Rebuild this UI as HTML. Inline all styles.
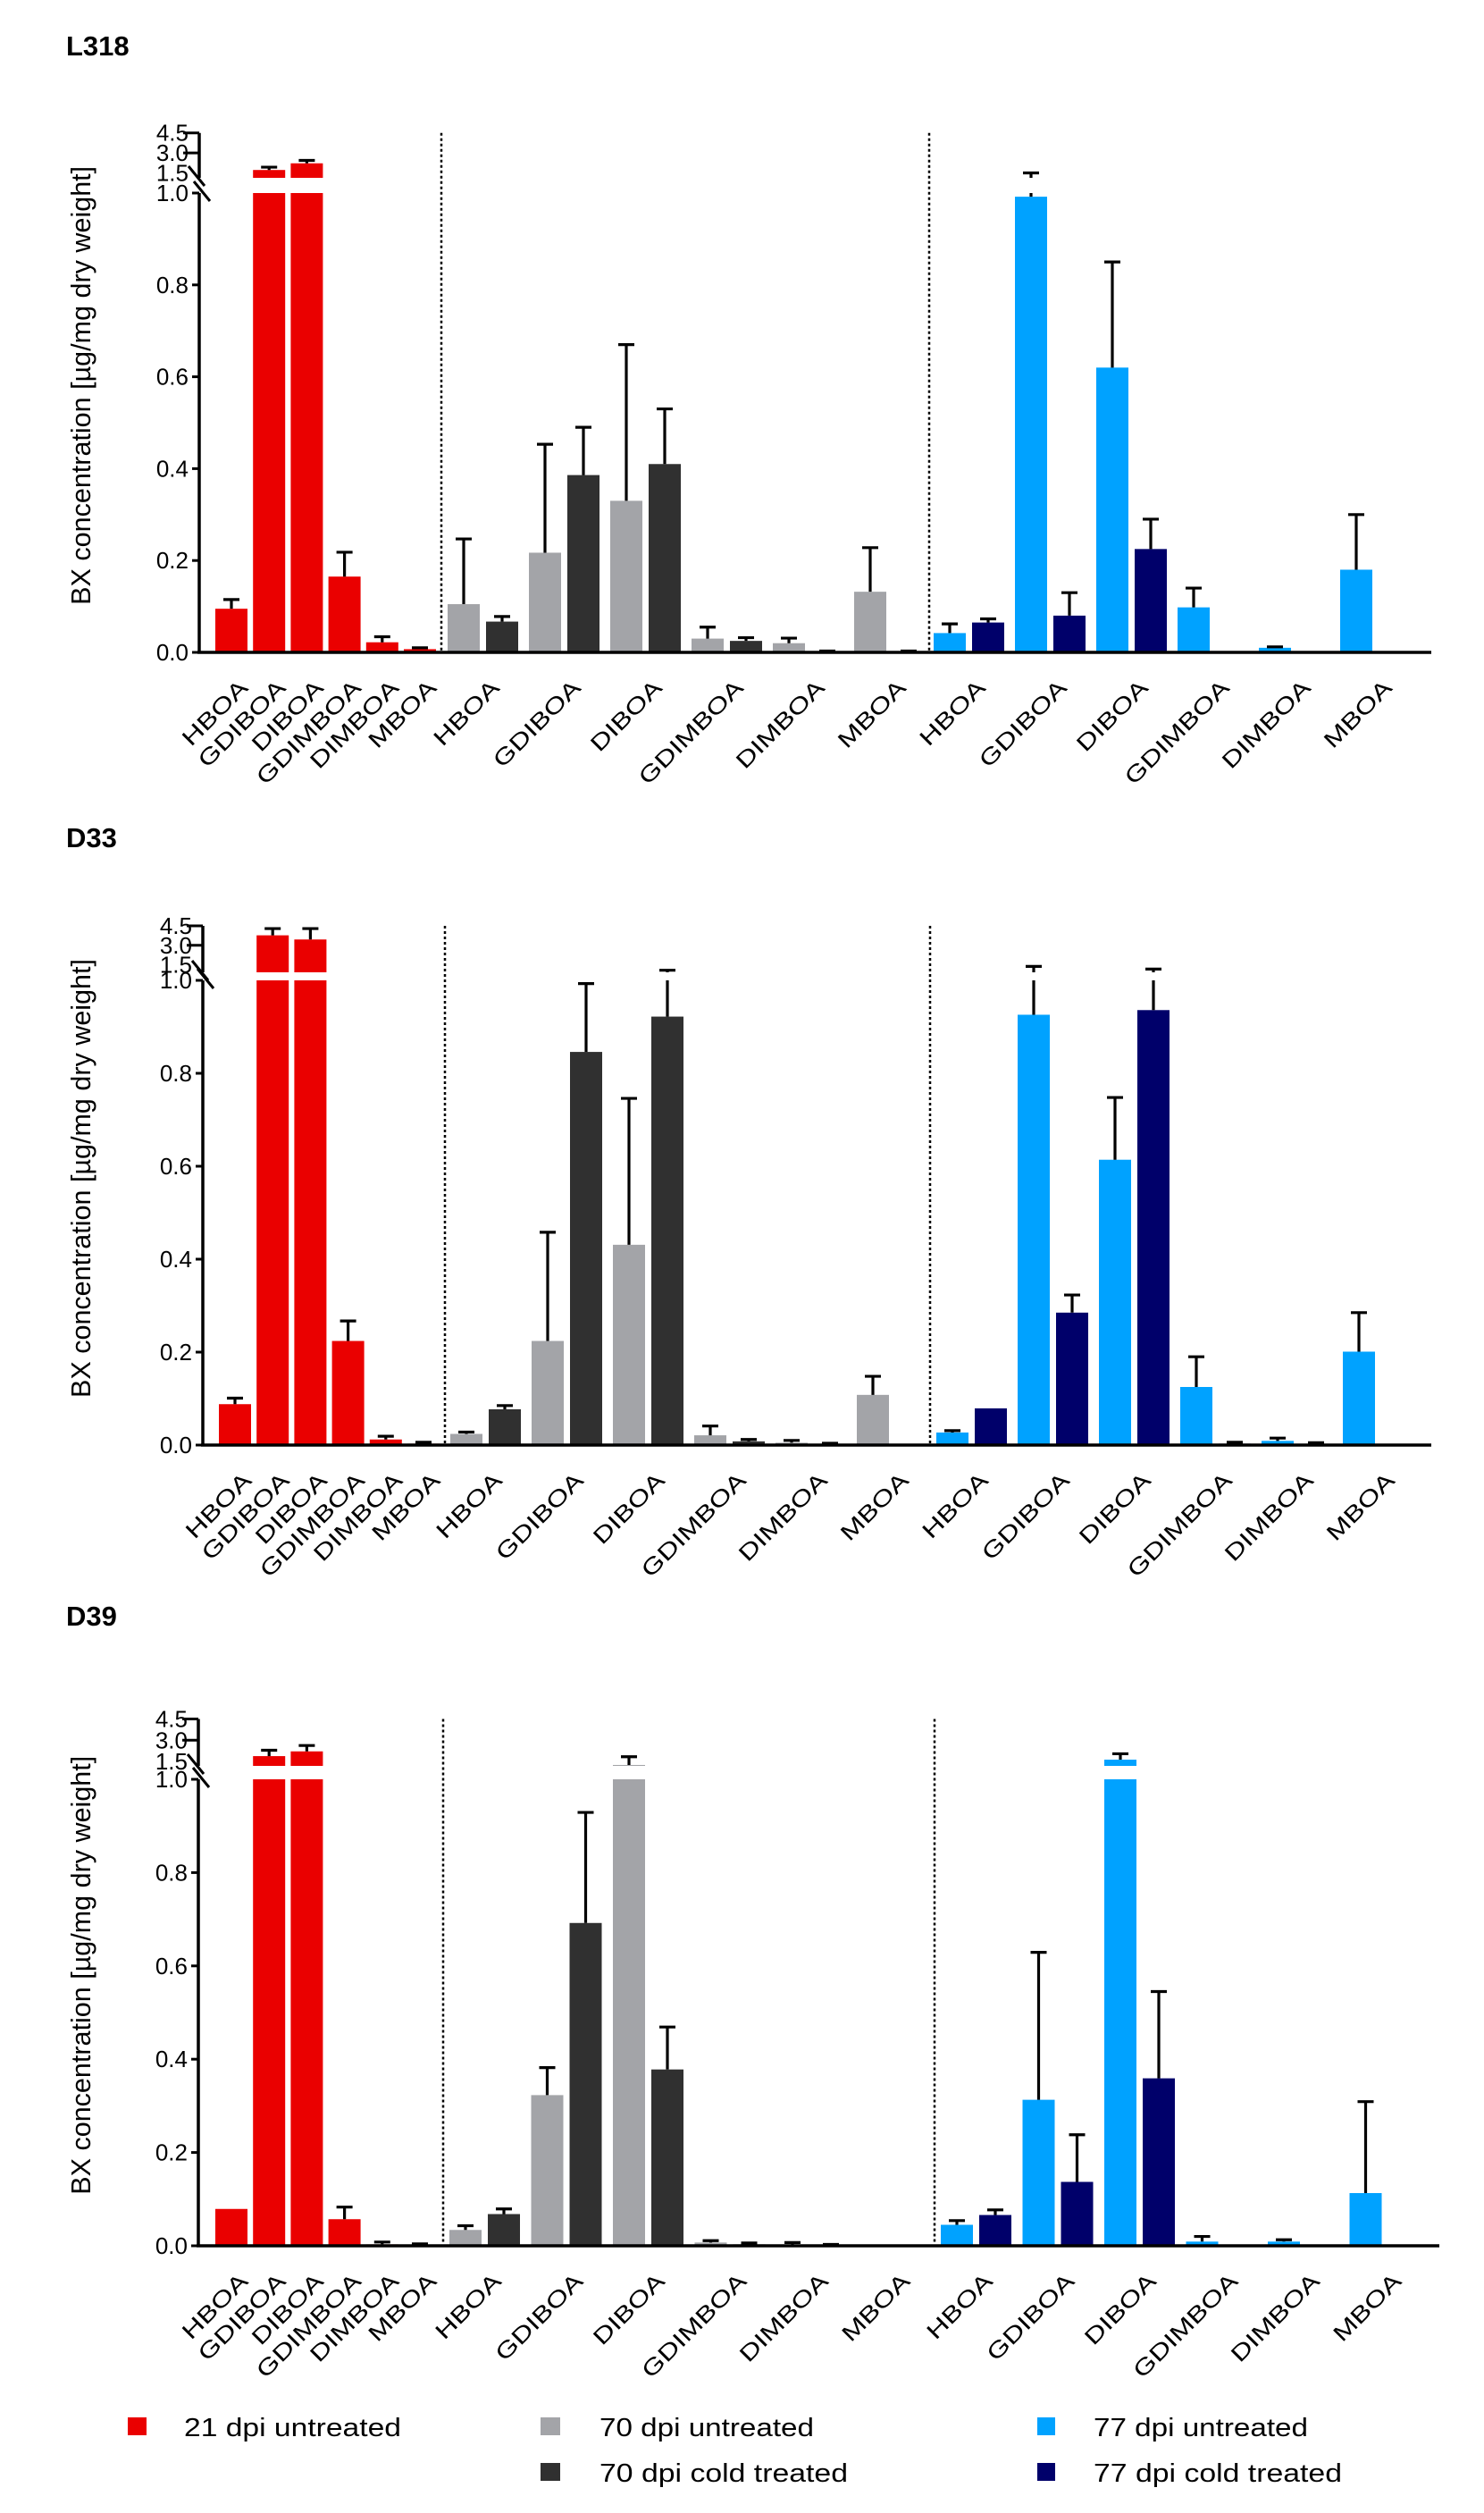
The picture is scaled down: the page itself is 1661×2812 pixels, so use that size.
<!DOCTYPE html>
<html><head><meta charset="utf-8"><style>
html,body{margin:0;padding:0;background:#fff;}
svg{display:block;font-family:"Liberation Sans",Arial,sans-serif;}
</style></head><body>
<svg id="chart" width="1661" height="2812" viewBox="0 0 1661 2812" xmlns="http://www.w3.org/2000/svg">
<rect width="1661" height="2812" fill="#fff"/>
<g id="legend">
  <g><rect x="143" y="2705" width="21" height="20" fill="#ea0000"/><text x="206" y="2726" font-size="29" textLength="243" lengthAdjust="spacingAndGlyphs">21 dpi untreated</text></g>
  <g><rect x="605" y="2705" width="22" height="20" fill="#a3a4a8"/><text x="671" y="2726" font-size="29" textLength="240" lengthAdjust="spacingAndGlyphs">70 dpi untreated</text></g>
  <g><rect x="605" y="2756" width="22" height="20" fill="#303030"/><text x="671" y="2777" font-size="29" textLength="278" lengthAdjust="spacingAndGlyphs">70 dpi cold treated</text></g>
  <g><rect x="1161" y="2705" width="20" height="20" fill="#00a2ff"/><text x="1224" y="2726" font-size="29" textLength="240" lengthAdjust="spacingAndGlyphs">77 dpi untreated</text></g>
  <g><rect x="1161" y="2756" width="20" height="20" fill="#00006a"/><text x="1224" y="2777" font-size="29" textLength="278" lengthAdjust="spacingAndGlyphs">77 dpi cold treated</text></g>
</g>
</svg>
<script>
const categories = ['HBOA','GDIBOA','DIBOA','GDIMBOA','DIMBOA','MBOA'];
const panelTitles = ['L318','D33','D39'];
const yTickLower = ['0.0','0.2','0.4','0.6','0.8','1.0'];
const yTickLowerVals = [0,0.2,0.4,0.6,0.8,1.0];
const yTickUpper = ['1.5','3.0','4.5'];
const yTickUpperVals = [1.5,3.0,4.5];

// L318
const l318_21 = [0.095,1.72,2.22,0.165,0.022,0.007];
const l318_21_hi = [0.115,1.93,2.44,0.218,0.034,0.010];
const l318_70u = [0.105,0.217,0.33,0.03,0.02,0.132];
const l318_70u_hi = [0.247,0.453,0.67,0.055,0.031,0.228];
const l318_70c = [0.067,0.386,0.41,0.025,0.002,0.002];
const l318_70c_hi = [0.078,0.49,0.53,0.032,0.003,0.003];
const l318_77u = [0.042,0.992,0.62,0.098,0.01,0.18];
const l318_77u_hi = [0.062,1.5,0.85,0.14,0.012,0.30];
const l318_77c = [0.065,0.08,0.225,0,0,0.002];
const l318_77c_hi = [0.073,0.13,0.29,0,0,0.002];
// D33
const d33_21 = [0.088,3.77,3.45,0.224,0.012,0.003];
const d33_21_hi = [0.101,4.29,4.29,0.267,0.019,0.006];
const d33_70u = [0.024,0.224,0.431,0.021,0.005,0.108];
const d33_70u_hi = [0.028,0.458,0.746,0.041,0.010,0.148];
const d33_70c = [0.077,0.846,0.922,0.008,0.002,0.002];
const d33_70c_hi = [0.085,0.993,1.08,0.012,0.004,0.002];
const d33_77u = [0.027,0.926,0.614,0.125,0.009,0.201];
const d33_77u_hi = [0.031,1.38,0.748,0.19,0.015,0.285];
const d33_77c = [0.079,0.285,0.936,0.003,0.002,0];
const d33_77c_hi = [0.079,0.323,1.17,0.006,0.005,0];
// D39
const d39_21 = [0.079,1.875,2.21,0.057,0.003,0.002];
const d39_21_hi = [0.079,2.29,2.625,0.083,0.008,0.004];
const d39_70u = [0.034,0.323,1.25,0.007,0.002,0];
const d39_70u_hi = [0.043,0.382,1.83,0.011,0.007,0];
const d39_70c = [0.068,0.692,0.378,0.003,0.001,0.001];
const d39_70c_hi = [0.079,0.929,0.469,0.006,0.003,0.001];
const d39_77u = [0.045,0.313,1.625,0.009,0.009,0.113];
const d39_77u_hi = [0.054,0.629,2.04,0.02,0.013,0.309];
const d39_77c = [0.066,0.137,0.359,0,0,0.001];
const d39_77c_hi = [0.077,0.238,0.545,0,0,0.001];

const C_RED='#ea0000', C_LG='#a3a4a8', C_DG='#303030', C_BL='#00a2ff', C_NV='#00006a';
const NS='http://www.w3.org/2000/svg';
const svg=document.getElementById('chart');
function mk(tag,attrs,parent){const e=document.createElementNS(NS,tag);for(const k in attrs)e.setAttribute(k,attrs[k]);(parent||svg).appendChild(e);return e;}

const geoms=[
 {key:'l318',title:62,base:730,y1:216,y45:148.7,y15:193.5,ubot:199,ax:223,end:1602,red0:259,redStep:42.2,gray0:519,blue0:1063,cat:91,pair:43,dots:[494,1040]},
 {key:'d33',title:948,base:1617,y1:1097,y45:1036,y15:1079.6,ubot:1088,ax:227,end:1602,red0:263,redStep:42.2,gray0:522,blue0:1066,cat:91,pair:43,dots:[498,1041]},
 {key:'d39',title:1819,base:2513,y1:1991,y45:1923.5,y15:1971,ubot:1976,ax:222,end:1611,red0:259,redStep:42.2,gray0:521,blue0:1071,cat:91.5,pair:43,dots:[496,1046]}
];
const panelData=[
 [l318_21,l318_21_hi,l318_70u,l318_70u_hi,l318_70c,l318_70c_hi,l318_77u,l318_77u_hi,l318_77c,l318_77c_hi],
 [d33_21,d33_21_hi,d33_70u,d33_70u_hi,d33_70c,d33_70c_hi,d33_77u,d33_77u_hi,d33_77c,d33_77c_hi],
 [d39_21,d39_21_hi,d39_70u,d39_70u_hi,d39_70c,d39_70c_hi,d39_77u,d39_77u_hi,d39_77c,d39_77c_hi]
];

geoms.forEach((g,pi)=>{
  const k=(g.y15-g.y45)/3;
  const yOf=v=> v<=1 ? g.base-(g.base-g.y1)*v : g.y15-(v-1.5)*k;
  const grp=mk('g',{});
  
  
  const t=mk('text',{x:74,y:g.title,'font-size':31,'font-weight':'bold'},grp);
  
  
  t.textContent=panelTitles[pi];
  const yt=mk('text',{x:0,y:0,'font-size':31,'text-anchor':'middle',transform:`translate(101,${(g.y45+g.base)/2-8}) rotate(-90)`,textLength:491,lengthAdjust:'spacingAndGlyphs'},grp);
  
  
  yt.textContent='BX concentration [µg/mg dry weight]';

  const d=panelData[pi];
  const bars=[];
  for(let i=0;i<6;i++) bars.push({x:g.red0+i*g.redStep,v:d[0][i],hi:d[1][i],c:C_RED,n:'bar-21dpi-'+categories[i]});
  for(let i=0;i<6;i++){
    const gx=g.gray0+i*g.cat, bx=g.blue0+i*g.cat;
    bars.push({x:gx,v:d[2][i],hi:d[3][i],c:C_LG,n:'bar-70dpi-untreated-'+categories[i]});
    bars.push({x:gx+g.pair,v:d[4][i],hi:d[5][i],c:C_DG,n:'bar-70dpi-cold-'+categories[i]});
    bars.push({x:bx,v:d[6][i],hi:d[7][i],c:C_BL,n:'bar-77dpi-untreated-'+categories[i]});
    bars.push({x:bx+g.pair,v:d[8][i],hi:d[9][i],c:C_NV,n:'bar-77dpi-cold-'+categories[i]});
  }
  bars.forEach(b=>{
    const yt2=yOf(b.v);
    const r=mk('rect',{x:b.x-18,y:yt2,width:36,height:Math.max(0,g.base-yt2),fill:b.c},grp);
    
    
    if(b.hi>b.v){
      const yh=yOf(b.hi);
      const e=mk('path',{d:`M${b.x} ${yt2}V${yh}M${b.x-9} ${yh}H${b.x+9}`,stroke:'#000','stroke-width':3.2,fill:'none'},grp);
      
      
    }
  });
  mk('rect',{x:g.ax-3,y:g.ubot,width:g.end-g.ax+3,height:g.y1-g.ubot,fill:'#fff'},grp);
  g.dots.forEach(x=>{
    const l=mk('line',{x1:x,y1:g.y45,x2:x,y2:g.base,stroke:'#000','stroke-width':2.5,'stroke-dasharray':'3,3'},grp);
    
    
  });
  const ya=mk('path',{d:`M${g.ax} ${g.y45}V${g.ubot}M${g.ax} ${g.y1}V${g.base}`,stroke:'#000','stroke-width':3.5,fill:'none'},grp);
  
  
  const br=mk('path',{d:`M${g.ax-12} ${g.ubot-13}L${g.ax+6} ${g.ubot+9}M${g.ax-6} ${g.y1-13}L${g.ax+12} ${g.y1+9}`,stroke:'#000','stroke-width':3,fill:'none'},grp);
  
  
  const xa=mk('line',{x1:g.ax-2,y1:g.base,x2:g.end,y2:g.base,stroke:'#000','stroke-width':3.5},grp);
  
  
  yTickLowerVals.forEach((v,i)=>{
    const y=yOf(v);
    mk('line',{x1:g.ax-8,y1:y,x2:g.ax,y2:y,stroke:'#000','stroke-width':3},grp);
    const tl=mk('text',{x:g.ax-12,y:y+9,'font-size':26,'text-anchor':'end'},grp);
    
    
    tl.textContent=yTickLower[i];
  });
  yTickUpperVals.forEach((v,i)=>{
    const y=yOf(v);
    if(v>1.5) mk('line',{x1:g.ax-18,y1:y,x2:g.ax,y2:y,stroke:'#000','stroke-width':3},grp);
    const tl=mk('text',{x:g.ax-12,y:y+9,'font-size':26,'text-anchor':'end'},grp);
    
    
    tl.textContent=yTickUpper[i];
  });
  const labelAt=(cx,txt)=>{
    const lb=mk('text',{x:0,y:0,'font-size':25,'text-anchor':'end',transform:`translate(${cx+20},${g.base+41}) rotate(-45) scale(1.3,1)`},grp);
    
    
    lb.textContent=txt;
  };
  for(let i=0;i<6;i++){
    labelAt(g.red0+i*g.redStep,categories[i]);
    labelAt(g.gray0+i*g.cat+g.pair/2,categories[i]);
    labelAt(g.blue0+i*g.cat+g.pair/2,categories[i]);
  }
});
</script>
</body></html>
